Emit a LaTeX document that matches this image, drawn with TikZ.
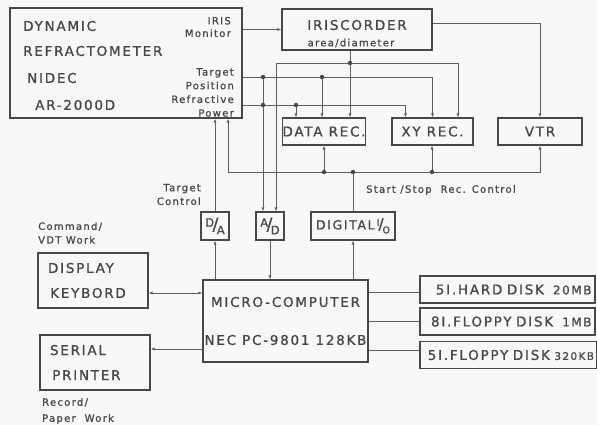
\documentclass[tikz,border=0pt]{standalone}
\usepackage{fontspec}
\setmainfont{DejaVu Sans}[LetterSpace=13, FakeBold=1]
\usepackage{tikz}
\usetikzlibrary{arrows.meta, positioning}
\definecolor{ink}{HTML}{484848}
\definecolor{wirec}{HTML}{5E5E5E}
\definecolor{paper}{HTML}{F8F8F6}

\begin{document}
\begin{tikzpicture}[
    x=1pt, y=-1pt,
    big/.style={font=\fontsize{13.5}{16}\selectfont},
    txt/.style={big, text=ink, inner sep=0pt},
    box/.style={
      draw=ink,
      line width=1.1pt,
      text=ink,
      big,
      inner sep=0pt
    },
    disk/.style={
      box,
      minimum height=27,
      align=right,
      font=\fontsize{13.5}{15}\selectfont
    },
    note/.style={
      text=ink,
      inner sep=0pt,
      font=\fontsize{10}{13.7}\selectfont
    },
    wire/.style={draw=wirec, line width=0.8pt},
    arrow/.style={wire, -{Latex[length=4pt, width=3pt]}},
    twoway/.style={wire, {Latex[length=4pt, width=3pt]}-{Latex[length=4pt, width=3pt]}},
    junction/.style={circle, fill=ink, inner sep=0pt, minimum size=4.5pt}
  ]

    \fill[paper] (0,0) rectangle (597,425);
    \useasboundingbox (0,0) rectangle (597,425);

    % Refractometer and recorders
    \node[box, minimum width=232, minimum height=110] (refr) at (126,63) {};
    \node[txt, anchor=west] (dyn) at (23,26) {DYNAMIC};
    \node[txt, anchor=west] (rfm) at (23,51) {REFRACTOMETER};
    \node[txt, anchor=west] (nidec) at (27,78) {NIDEC};
    \node[txt, anchor=west] (model) at (35,105) {AR-2000D};
    \node[note, anchor=east, align=right, font=\fontsize{10}{12.5}\selectfont] (irismon) at (231,27) {IRIS\\Monitor};
    \node[note, anchor=east, align=right] (outs) at (234,92.5) {Target\\Position\\Refractive\\Power};

    \node[box, minimum width=150, minimum height=41] (iris) at (357,29.5) {};
    \node[txt] (irisname) at (357,25) {IRISCORDER};
    \node[note] (irisarea) at (351,43) {area/diameter};

    \node[box, minimum width=82, minimum height=27] (datarec) at (324,131.5) {DATA REC.};
    \node[box, minimum width=81, minimum height=27] (xyrec) at (432.5,131.5) {XY REC.};
    \node[box, minimum width=84, minimum height=27] (vtr) at (540,131.5) {VTR};

    % Converters
    \node[box, minimum width=28, minimum height=28, font=\fontsize{11.5}{12}\selectfont] (da) at (215,226)
      {\raisebox{3.5pt}{D}\kern-1.5pt{\fontsize{17}{17}\selectfont/}\kern-1.5pt\raisebox{-4pt}{A}};
    \node[box, minimum width=28, minimum height=28, font=\fontsize{11.5}{12}\selectfont] (ad) at (270,226)
      {\raisebox{3.5pt}{A}\kern-1.5pt{\fontsize{17}{17}\selectfont/}\kern-1.5pt\raisebox{-4pt}{D}};
    \node[box, minimum width=84, minimum height=28, font=\fontsize{12.5}{14}\selectfont] (dio) at (353,226)
      {DIGITAL\,\raisebox{3.5pt}{\fontsize{9.5}{10}\selectfont I}\kern-1pt{\fontsize{15}{15}\selectfont/}\kern-1pt\raisebox{-4pt}{\fontsize{9.5}{10}\selectfont O}};

    % Computer and peripherals
    \node[box, minimum width=165, minimum height=82, align=center] (micro) at (285.5,321)
      {MICRO-COMPUTER\\[22pt]NEC PC-9801 128KB};
    \node[box, minimum width=110, minimum height=55, text width=90, align=left] (disp) at (93,280.5)
      {DISPLAY\\[9pt]\,KEYBORD};
    \node[box, minimum width=110, minimum height=55, text width=90, align=left] (prn) at (95,362.5)
      {SERIAL\\[9pt]\,PRINTER};

    \node[disk, minimum width=175, text width=168] (hdd) at (507.5,289.5)
      {5I.HARD DISK\ \ {\fontsize{12}{12}\selectfont 20MB}};
    \node[disk, minimum width=175, text width=168] (fdd8) at (507.5,321.5)
      {8I.FLOPPY DISK\ \ {\fontsize{12}{12}\selectfont 1MB}};
    \node[disk, minimum width=177, text width=171] (fdd5) at (508.5,355)
      {5I.FLOPPY DISK {\fontsize{10.5}{11}\selectfont 320KB}};

    % Annotations
    \node[note, anchor=east, align=right] (tctl) at (201,194.5) {Target\\Control};
    \node[note, anchor=west] (sscl) at (366,190) {Start /Stop\ \ Rec. Control};
    \node[note, anchor=west, align=left] (cmd) at (38,233) {Command/\\VDT Work};
    \node[note, anchor=west, align=left, font=\fontsize{10}{16}\selectfont] (rec) at (42,411) {Record/\\Paper\ \ Work};

    % Junctions
    \coordinate (jA) at (350,63);
    \coordinate (jT1) at (263,77);
    \coordinate (jT2) at (322,77);
    \coordinate (jR1) at (263,105);
    \coordinate (jR2) at (296,105);
    \coordinate (jS1) at (324,172);
    \coordinate (jS2) at (353,172);
    \coordinate (jS3) at (432,172);
    \coordinate (bus) at (228,172);

    % Signal lines
    \draw[arrow] (refr.east |- iris.west) -- (iris.west);
    \draw[arrow] ([yshift=6.5]iris.east) -| (vtr.north);

    \draw[arrow] (jA |- iris.south) -- (jA |- datarec.north);
    \draw[arrow] (jA) -| ([xshift=6]ad.north);
    \draw[arrow] (jA) -| ([xshift=25.5]xyrec.north);

    \draw[arrow] (refr.east |- jT1) -| (xyrec.north);
    \draw[arrow] (jT1) -- (jT1 |- ad.north);
    \draw[arrow] (jT2) -- (jT2 |- datarec.north);

    \draw[arrow] (refr.east |- jR1) -| ([xshift=-27]xyrec.north);
    \draw[arrow] (jR2) -- (jR2 |- datarec.north);

    \draw[wire] (dio.north) -- (jS2);
    \draw[arrow] (jS2) -- (bus) -- (bus |- refr.south);
    \draw[arrow] (jS2) -| (vtr.south);
    \draw[arrow] (jS1) -- (jS1 |- datarec.south);
    \draw[arrow] (jS3) -- (jS3 |- xyrec.south);

    \draw[arrow] (da |- micro.north) -- (da.south);
    \draw[arrow] (da.north) -- (da |- refr.south);
    \draw[arrow] (ad.south) -- (ad |- micro.north);
    \draw[arrow] (dio |- micro.north) -- (dio.south);

    \coordinate (kb) at ([yshift=-12.5]disp.east);
    \draw[twoway] (kb) -- (kb -| micro.west);
    \coordinate (pr) at ([yshift=13.5]prn.east);
    \draw[arrow] (pr -| micro.west) -- (pr);

    \draw[wire] ([yshift=-2.5]hdd.west) -- ([yshift=-2.5]hdd.west -| micro.east);
    \draw[wire] (fdd8.west) -- (fdd8.west -| micro.east);
    \draw[wire] ([yshift=5]fdd5.west) -- ([yshift=5]fdd5.west -| micro.east);

    \foreach \j in {jA, jT1, jT2, jR1, jR2, jS1, jS2, jS3}
      \node[junction] (d\j) at (\j) {};

  \end{tikzpicture}
\end{document}
